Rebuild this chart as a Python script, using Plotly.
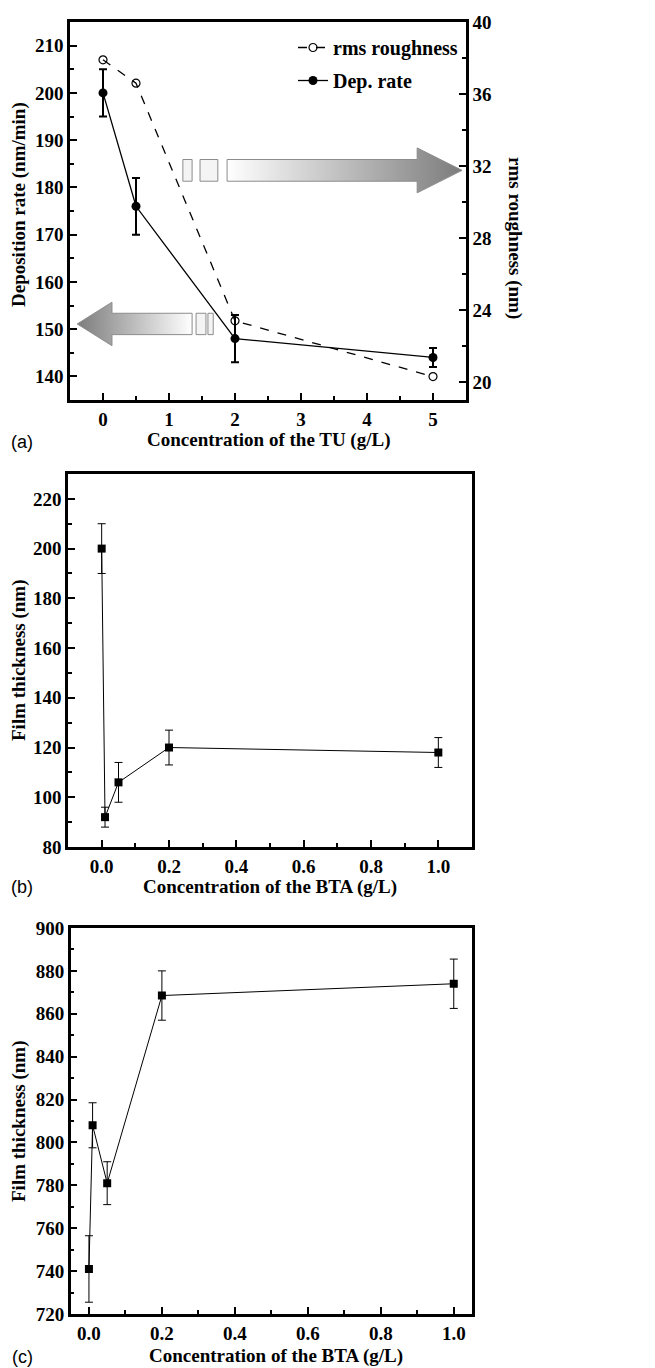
import plotly.graph_objects as go

# ---------------- data ----------------
# Panel (a): TU concentration
tu_conc = [0, 0.5, 2, 5]
dep_rate = [200, 176, 148, 144]
dep_rate_err = [5, 6, 5, 2]
rms_rough = [37.9, 36.6, 23.4, 20.3]

# Panel (b): BTA concentration vs film thickness
bta_conc_b = [0, 0.01, 0.05, 0.2, 1.0]
thick_b = [200, 92, 106, 120, 118]
thick_b_err = [10, 4, 8, 7, 6]

# Panel (c): BTA concentration vs film thickness
bta_conc_c = [0, 0.01, 0.05, 0.2, 1.0]
thick_c = [741, 808, 781, 868.5, 874]
thick_c_err = [15.5, 10.5, 10, 11.5, 11.5]

W, H = 655, 1368
SERIF = "Liberation Serif"
SANS = "Liberation Sans"


def px_x(p):
    return p / W


def px_y(p):
    return 1 - p / H


fig = go.Figure()

# ---------------- decorative gradient arrows in panel (a) ----------------
def arrow_poly(x_tail, x_neck, x_tip, yc, bh, hh):
    xs = [x_tail, x_neck, x_neck, x_tip, x_neck, x_neck, x_tail, x_tail]
    ys = [yc + bh, yc + bh, yc + hh, yc, yc - hh, yc - bh, yc - bh, yc + bh]
    return xs, ys

ARROW_GRAY = "#7c7c7c"
# right-pointing arrow (towards rms roughness axis)
ax, ay = arrow_poly(1.88, 4.76, 5.44, 183.6, 2.3, 4.75)
fig.add_trace(go.Scatter(x=ax, y=ay, mode="lines", fill="toself",
                         line=dict(color="#8c8c8c", width=1),
                         fillgradient=dict(type="horizontal",
                                           colorscale=[[0, "#ffffff"], [1, ARROW_GRAY]]),
                         hoverinfo="skip", showlegend=False, xaxis="x", yaxis="y"))
# left-pointing arrow (towards deposition rate axis)
bx, by = arrow_poly(1.35, 0.136, -0.39, 151.1, 2.26, 4.6)
fig.add_trace(go.Scatter(x=bx, y=by, mode="lines", fill="toself",
                         line=dict(color="#8c8c8c", width=1),
                         fillgradient=dict(type="horizontal",
                                           colorscale=[[0, ARROW_GRAY], [1, "#ffffff"]]),
                         hoverinfo="skip", showlegend=False, xaxis="x", yaxis="y"))

small_rects = [
    (1.21, 1.35, 183.6, 2.3), (1.47, 1.74, 183.6, 2.3),
    (1.41, 1.56, 151.1, 2.26), (1.59, 1.67, 151.1, 2.26),
]
for x0, x1, yc, bh in small_rects:
    fig.add_shape(type="rect", xref="x", yref="y", x0=x0, x1=x1, y0=yc - bh, y1=yc + bh,
                  line=dict(color="#8c8c8c", width=1), fillcolor="#f4f4f4", layer="below")

# ---------------- panel (a) traces ----------------
fig.add_trace(go.Scatter(
    x=tu_conc, y=rms_rough, name="rms roughness", mode="lines+markers",
    line=dict(color="black", width=1.3, dash="dash"),
    marker=dict(symbol="circle-open", size=8, color="black", line=dict(width=1.2)),
    xaxis="x", yaxis="y2", legendgroup="g1"))
fig.add_trace(go.Scatter(
    x=tu_conc, y=dep_rate, name="Dep. rate", mode="lines+markers",
    line=dict(color="black", width=1.3),
    marker=dict(symbol="circle", size=9, color="black"),
    error_y=dict(type="data", array=dep_rate_err, color="black", thickness=2, width=4),
    xaxis="x", yaxis="y", legendgroup="g2"))

# ---------------- panel (b) ----------------
fig.add_trace(go.Scatter(
    x=bta_conc_b, y=thick_b, mode="lines+markers", showlegend=False,
    line=dict(color="black", width=1),
    marker=dict(symbol="square", size=8, color="black"),
    error_y=dict(type="data", array=thick_b_err, color="black", thickness=1, width=4),
    xaxis="x2", yaxis="y3"))

# ---------------- panel (c) ----------------
fig.add_trace(go.Scatter(
    x=bta_conc_c, y=thick_c, mode="lines+markers", showlegend=False,
    line=dict(color="black", width=1),
    marker=dict(symbol="square", size=8, color="black"),
    error_y=dict(type="data", array=thick_c_err, color="black", thickness=1, width=4),
    xaxis="x3", yaxis="y4"))

# ---------------- axes ----------------
tickfont = dict(family=SERIF, size=19, color="black", weight=700)


def ax_style(**kw):
    d = dict(showline=True, linewidth=2.5, linecolor="black", mirror=True,
             ticks="inside", ticklen=7, tickwidth=2, tickcolor="black",
             showgrid=False, zeroline=False, tickfont=tickfont, automargin=False,
             minor=dict(ticks="inside", ticklen=4, tickwidth=2, tickcolor="black", showgrid=False))
    d.update(kw)
    return d

fig.update_layout(
    template="none",
    xaxis=ax_style(domain=[px_x(70), px_x(466)], range=[-0.5, 5.5], tick0=0, dtick=1,
                   minor_dtick=0.5, anchor="y"),
    yaxis=ax_style(domain=[px_y(400), px_y(22)], range=[135, 215], tick0=0, dtick=10,
                   minor_dtick=5, anchor="x"),
    yaxis2=ax_style(overlaying="y", side="right", anchor="x", range=[19, 40], tick0=0,
                    dtick=4, minor_dtick=2, mirror=False),
    xaxis2=ax_style(domain=[px_x(68), px_x(472)], range=[-0.1, 1.1], tick0=0, dtick=0.2,
                    minor_dtick=0.1, tickformat=".1f", anchor="y3"),
    yaxis3=ax_style(domain=[px_y(847), px_y(474)], range=[80, 230], tick0=0, dtick=20,
                    minor_dtick=10, anchor="x2"),
    xaxis3=ax_style(domain=[px_x(70.7), px_x(472)], range=[-0.05, 1.05], tick0=0, dtick=0.2,
                    minor_dtick=0.1, tickformat=".1f", anchor="y4"),
    yaxis4=ax_style(domain=[px_y(1314), px_y(928)], range=[720, 900], tick0=0, dtick=20,
                    minor_dtick=10, anchor="x3"),
)

# ---------------- titles / labels ----------------
title_font = dict(family=SERIF, size=19, color="black", weight=700)
annots = [
    ("Concentration of the TU (g/L)", 268, 440, 0),
    ("Deposition rate (nm/min)", 19, 205, -90),
    ("rms roughness (nm)", 515, 238, 90),
    ("Concentration of the BTA (g/L)", 270, 887, 0),
    ("Film thickness (nm)", 19, 660, -90),
    ("Concentration of the BTA (g/L)", 276, 1356, 0),
    ("Film thickness (nm)", 19, 1121, -90),
]
for text, xp, yp, ang in annots:
    fig.add_annotation(text=text, x=px_x(xp), y=px_y(yp), xref="paper", yref="paper",
                       showarrow=False, textangle=ang, font=title_font,
                       xanchor="center", yanchor="middle")

for text, yp in [("(a)", 442), ("(b)", 887), ("(c)", 1357)]:
    fig.add_annotation(text=text, x=px_x(22), y=px_y(yp), xref="paper", yref="paper",
                       showarrow=False, font=dict(family=SANS, size=18, color="black"),
                       xanchor="center", yanchor="middle")

fig.update_layout(
    width=W, height=H,
    margin=dict(l=0, r=0, t=0, b=0, pad=0, autoexpand=False),
    paper_bgcolor="white", plot_bgcolor="white",
    legend=dict(x=px_x(463), y=px_y(28), xanchor="right", yanchor="top",
                bgcolor="rgba(0,0,0,0)", tracegroupgap=4, borderwidth=0,
                font=dict(family=SERIF, size=20, color="black", weight=700)),
)

fig.write_html("out.html", config={"displayModeBar": False},
               post_script="document.body.style.margin='0';document.body.style.overflow='hidden';")
